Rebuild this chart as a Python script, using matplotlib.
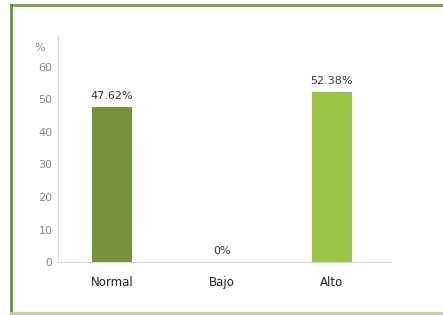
import matplotlib.pyplot as plt
from matplotlib.lines import Line2D

categories = ['Normal', 'Bajo', 'Alto']
values = [47.62, 0, 52.38]
labels = ['47.62%', '0%', '52.38%']
colors = ['#76923c', '#8db443', '#9bc446']
yticks = [0, 10, 20, 30, 40, 50, 60]

fig = plt.figure(figsize=(4.43, 3.15), dpi=100)
ax = fig.add_axes([0.131, 0.168, 0.752, 0.718])

x = range(len(categories))
ax.bar(x, values, width=0.36, color=colors)
for i, (v, lab) in enumerate(zip(values, labels)):
    ax.text(i, v + 1.8, lab, ha='center', va='bottom', fontsize=8, color='#333333')

ax.set_xlim(-0.49, 2.54)
ax.set_ylim(0, 69.5)
ax.set_yticks(yticks)
ax.set_xticks(list(x))
ax.set_xticklabels(categories, fontsize=8.5, color='#222222')
ax.tick_params(axis='y', length=0, labelsize=8, colors='#888888', pad=4)
ax.tick_params(axis='x', length=0, pad=10)
for s in ['top', 'right']:
    ax.spines[s].set_visible(False)
for s in ['left', 'bottom']:
    ax.spines[s].set_color('#d8d8d8')
    ax.spines[s].set_linewidth(0.8)
ax.text(-0.04, 65.8, '%', transform=ax.get_yaxis_transform(), ha='right', va='center',
        fontsize=8, color='#888888')

# frame around the chart
fig.add_artist(Line2D([11 / 443, 1], [1 - 5 / 315, 1 - 5 / 315], transform=fig.transFigure,
                      color='#7e9e3e', linewidth=2))
fig.add_artist(Line2D([11 / 443, 11 / 443], [1 - 5 / 315, 1 - 313 / 315], transform=fig.transFigure,
                      color='#6f8f30', linewidth=2))
fig.add_artist(Line2D([11 / 443, 1], [1 - 313 / 315, 1 - 313 / 315], transform=fig.transFigure,
                      color='#b5d98a', linewidth=2))

fig.savefig('out.png', dpi=100)
